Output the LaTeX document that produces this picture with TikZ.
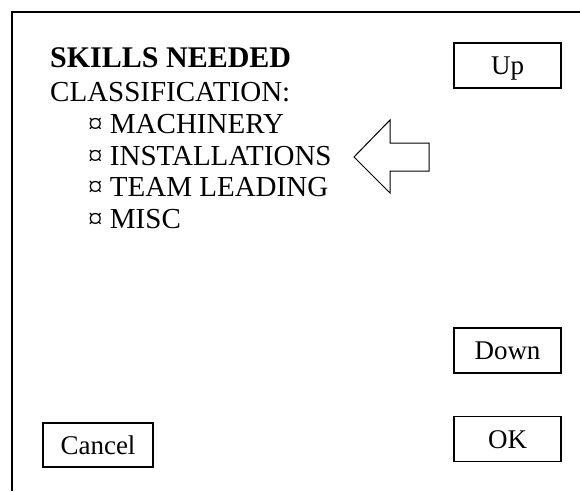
\documentclass[tikz,border=0pt]{standalone}
\usepackage{fontspec}
\setmainfont{Liberation Serif}
\usetikzlibrary{positioning}

\tikzset{
  button/.style = {draw, line width = 1.3pt, minimum width = 107pt, minimum height = 45pt,
    inner sep = 0pt, font = \fontsize{27}{30}\selectfont, text height = 18pt, text depth = 0pt},
  listtext/.style = {anchor = base west, inner sep = 0pt, font = \fontsize{29}{32}\selectfont}
}

\begin{document}
\begin{tikzpicture}[x = 1pt, y = -1pt]
  \useasboundingbox (0, 0) rectangle (580, 491);
  \draw [line width = 2pt] (12, 491) -- (12, 12) -- (580, 12);
  \node [listtext, font = \fontsize{30}{32}\selectfont\bfseries] (title) at (50, 67) {SKILLS NEEDED};
  \node [listtext] (class) at (50, 101) {CLASSIFICATION:};
  \foreach \name [count = \i] in {MACHINERY, INSTALLATIONS, TEAM LEADING, MISC}{
    \node [listtext] (item\i) at (88, 102 + 31.5 * \i) {¤ \name};
  }
  \draw [line width = 1pt] (354, 157) -- (390, 120) -- (390, 143) -- (429, 143)
    -- (429, 171) -- (390, 171) -- (390, 193) -- cycle;
  \node [button] (up) at (507.5, 65.5) {Up};
  \node [button] (down) at (507.5, 350.5) {Down};
  \node [button] (ok) at (507.5, 439) {OK};
  \node [button, minimum width = 110pt, minimum height = 44pt] (cancel) at (98, 445) {Cancel};
\end{tikzpicture}
\end{document}
